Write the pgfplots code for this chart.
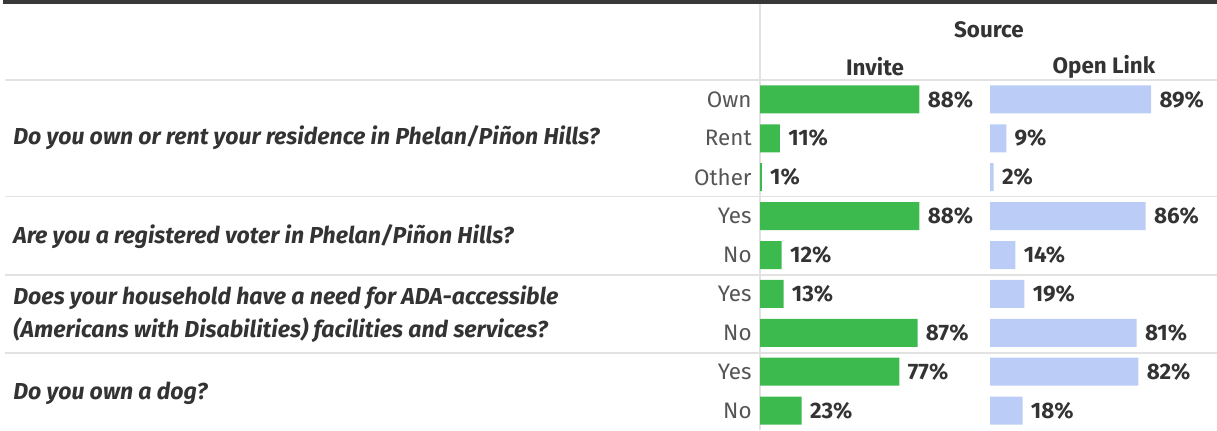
\documentclass[border=0pt]{standalone}
\usepackage{pgfplots}
\pgfplotsset{compat=1.18}
\usepackage{pgfplotstable}
\usepackage{fontspec}
\setmainfont{Fira Sans}
\definecolor{barg}{HTML}{3DBA4E}
\definecolor{barb}{HTML}{BBCDF6}
\definecolor{txt}{HTML}{333333}
\definecolor{lab}{HTML}{555555}
\definecolor{sep}{HTML}{E2E2E2}
\pgfplotstableread{
row inv open
0 88 89
1 11 9
2 1 2
3 88 86
4 12 14
5 13 19
6 87 81
7 77 82
8 23 18
}\data
\newcommand\qfont{\fontsize{11.55}{13}\selectfont\bfseries\itshape\color{txt}}
\newcommand\lfont{\fontsize{11.2}{13}\selectfont}
\pgfplotsset{
  panel/.style={
    anchor=south west, scale only axis, height=175pt,
    xbar, xmin=0, ymin=-0.5, ymax=8.5, y dir=reverse,
    bar width=0.72, clip=false,
    hide x axis, y axis line style={draw=none}, ytick style={draw=none},
    major tick length=0pt,
    ytick={0,...,8},
    /pgf/number format/assume math mode=true,
    nodes near coords={\pgfmathprintnumber{\pgfplotspointmeta}\%},
    nodes near coords style={font=\lfont\bfseries, text=txt, anchor=west, inner sep=0pt, xshift=4pt},
  }
}
\begin{document}
\begin{tikzpicture}
\path[use as bounding box] (0,0) rectangle (608.5pt,-215pt);
\begin{scope}[x=0.5pt,y=-0.5pt]
  \fill[black!78] (3,0) rectangle (1217,3.5);
  \draw[sep, line width=0.7pt] (5,80) -- (1217,80);
  \draw[sep, line width=0.7pt] (5,196.7) -- (1217,196.7);
  \draw[sep, line width=0.7pt] (5,275) -- (1217,275);
  \draw[sep, line width=0.7pt] (5,353) -- (1217,353);
  \draw[sep, line width=0.7pt] (760,4) -- (760,430);
  \node[font=\lfont\bfseries, text=txt] at (989,30) {Source};
  \node[font=\lfont\bfseries, text=txt] at (875,67) {Invite};
  \node[font=\lfont\bfseries, text=txt] at (1104,67) {Open Link};
  \node[anchor=west, inner sep=0pt] at (13,138) {\qfont Do you own or rent your residence in Phelan/Piñon Hills?};
  \node[anchor=west, inner sep=0pt] at (13,237) {\qfont Are you a registered voter in Phelan/Piñon Hills?};
  \node[anchor=west, inner sep=0pt] at (13,298) {\qfont Does your household have a need for ADA-accessible};
  \node[anchor=west, inner sep=0pt] at (13,330) {\qfont (Americans with Disabilities) facilities and services?};
  \node[anchor=west, inner sep=0pt] at (13,393) {\qfont Do you own a dog?};
\end{scope}
\begin{axis}[panel, at={(380pt,-215pt)}, width=115pt, xmax=127,
  yticklabels={Own,Rent,Other,Yes,No,Yes,No,Yes,No},
  yticklabel style={font=\lfont, text=lab, inner sep=0pt, xshift=-4pt}]
  \addplot[fill=barg, draw=none] table[x=inv, y=row]{\data};
\end{axis}
\begin{axis}[panel, at={(495pt,-215pt)}, width=113.5pt, xmax=125.4,
  yticklabels={}]
  \addplot[fill=barb, draw=none] table[x=open, y=row]{\data};
\end{axis}
\end{tikzpicture}
\end{document}
